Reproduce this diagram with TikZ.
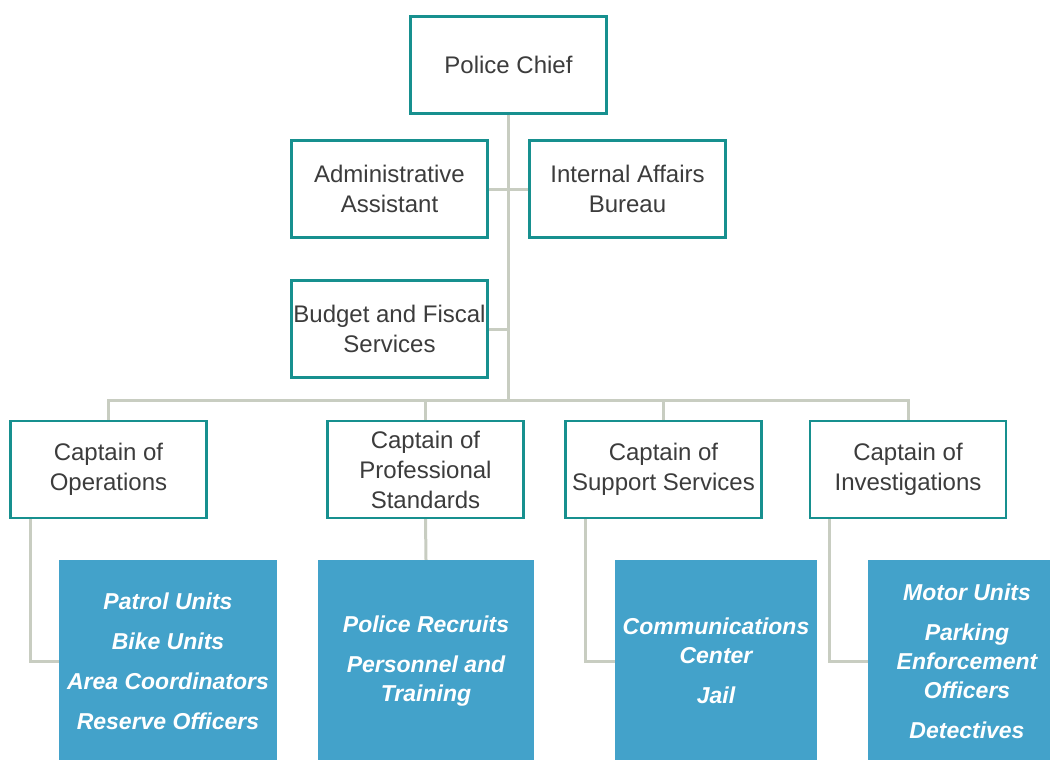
\documentclass[tikz,border=0pt]{standalone}
\usepackage{fontspec}
\setmainfont{Liberation Sans}
\definecolor{boxteal}{HTML}{17908F}
\definecolor{linkgray}{HTML}{C8CDC1}
\definecolor{unitblue}{HTML}{43A2CA}
\definecolor{textgray}{HTML}{3C3C3C}
\begin{document}
\begin{tikzpicture}[x=1pt,y=-1pt,
  office/.style={draw=boxteal,line width=2.2pt,fill=white,text=textgray,minimum width=196pt,minimum height=97pt,align=center,inner sep=0pt,font=\fontsize{24}{30}\selectfont},
  units/.style={fill=unitblue,text=white,minimum height=202pt,align=center,inner sep=0pt,font=\fontsize{23}{29}\selectfont\bfseries\itshape},
  link/.style={draw=linkgray,line width=3pt}]
 \useasboundingbox (0,0) rectangle (1050,760);
 \clip (0,0) rectangle (1050,760);
 \node[office] (chief) at (508.5,65) {Police Chief};
 \node[office] (admin) at (389.5,189) {Administrative\\Assistant};
 \node[office] (internal) at (627.5,189) {Internal Affairs\\Bureau};
 \node[office] (budget) at (389.5,329) {Budget and Fiscal\\Services};
 \node[office] (capops) at (108.5,469.5) {Captain of\\Operations};
 \node[office] (capprof) at (425.5,469.5) {Captain of\\Professional\\Standards};
 \node[office] (capsup) at (663.5,469.5) {Captain of\\Support Services};
 \node[office] (capinv) at (908,469.5) {Captain of\\Investigations};
 \node[units,minimum width=218pt] (opsunits) at (168,661) {Patrol Units\\[11pt]Bike Units\\[11pt]Area Coordinators\\[11pt]Reserve Officers};
 \node[units,minimum width=216pt] (profunits) at (426,661) {Police Recruits\\[11pt]Personnel and\\Training};
 \node[units,minimum width=202pt] (supunits) at (716,661) {Communications\\Center\\[11pt]Jail};
 \node[units,minimum width=198pt] (invunits) at (967,661) {Motor Units\\[11pt]Parking\\Enforcement\\Officers\\[11pt]Detectives};
 \coordinate (bus) at (508.5,400);
 \draw[link] (chief.south) -- (bus);
 \draw[link] (admin.east) -- (admin.east -| chief.south);
 \draw[link] (internal.west) -- (internal.west -| chief.south);
 \draw[link] (budget.east) -- (budget.east -| chief.south);
 \draw[link] (capops.north) |- (bus) -| (capinv.north);
 \foreach \c in {capprof,capsup}
   \draw[link] (\c.north |- bus) -- (\c.north);
 \draw[link] (capprof.south) -- (profunits.north);
 \foreach \c/\u in {capops/opsunits,capsup/supunits,capinv/invunits}
   \draw[link] ([xshift=21pt]\c.south west) |- (\u.west);
\end{tikzpicture}
\end{document}
